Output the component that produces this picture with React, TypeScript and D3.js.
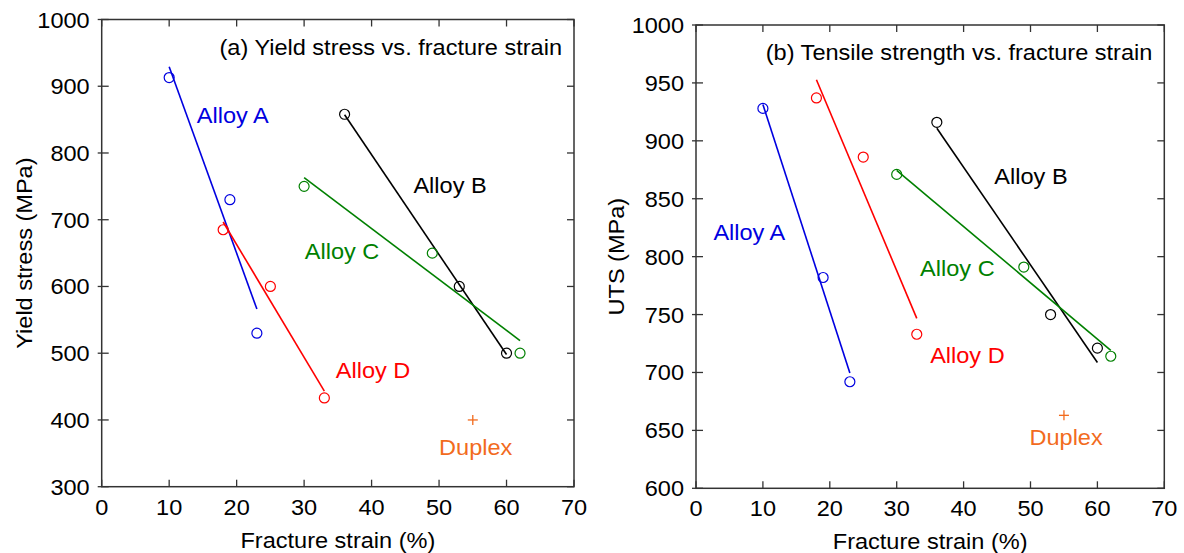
import React from "react";
import * as d3 from "d3";

// ---------- data ----------
const xTicks = [0, 10, 20, 30, 40, 50, 60, 70];
const yTicksA = [300, 400, 500, 600, 700, 800, 900, 1000];
const yTicksB = [600, 650, 700, 750, 800, 850, 900, 950, 1000];

const alloyNames = ["Alloy A", "Alloy B", "Alloy C", "Alloy D"];
const strainA = [10, 19, 23];
const strainB = [36, 53, 60];
const strainC = [30, 49, 62];
const strainD = [18, 25, 33];
const yieldA = [913, 730, 530];
const yieldB = [858, 600, 500];
const yieldC = [750, 650, 500];
const yieldD = [685, 600, 433];
const utsA = [928, 782, 692];
const utsB = [916, 750, 721];
const utsC = [871, 791, 714];
const utsD = [937, 886, 733];
const duplexStrain = [55];
const duplexYield = [400];
const duplexUts = [663];

// label anchors in data units (x strain, y stress)
const labelPosA = [[14.1, 845], [46.2, 740], [30.1, 641], [34.7, 463]];
const labelPosB = [[2.6, 814], [44.6, 863], [33.5, 783], [35.0, 708]];
const duplexLabelA = [50.0, 347];
const duplexLabelB = [49.85, 637];

const colors = ["#0000e0", "#000000", "#008000", "#ff0000"];
const duplexColor = "#f26b1d";
const FONT = "'Liberation Sans', Arial, Helvetica, sans-serif";
const FS = 22;
const SX = 1.07;

function fit(xs: number[], ys: number[]) {
  const mx = d3.mean(xs)!;
  const my = d3.mean(ys)!;
  let sxy = 0, sxx = 0;
  xs.forEach((x, i) => {
    sxy += (x - mx) * (ys[i] - my);
    sxx += (x - mx) * (x - mx);
  });
  const b = sxy / sxx;
  const a = my - b * mx;
  const x0 = d3.min(xs)!, x1 = d3.max(xs)!;
  return [[x0, a + b * x0], [x1, a + b * x1]];
}

function T({ x, y, anchor = "start", rot = 0, fill = "#000", children }: any) {
  return (
    <text
      transform={`translate(${x},${y}) rotate(${rot}) scale(${SX},1)`}
      textAnchor={anchor}
      fill={fill}
      fontFamily={FONT}
      fontSize={FS}
    >
      {children}
    </text>
  );
}

function Panel({ left, right, top, bottom, yDomain, yTicks, title, yLabel, yLabelOff, xs, ys, dup, labels, dupLabel }: any) {
  const x = d3.scaleLinear().domain([0, 70]).range([left, right]);
  const y = d3.scaleLinear().domain(yDomain).range([bottom, top]);
  const line = d3.line<number[]>().x((d) => x(d[0])).y((d) => y(d[1]));
  const axisColor = "#333";
  return (
    <g>
      {/* fit lines */}
      {xs.map((sx: number[], i: number) => (
        <path key={"l" + i} d={line(fit(sx, ys[i]))!} stroke={colors[i]} strokeWidth={1.6} fill="none" />
      ))}
      {/* points */}
      {xs.map((sx: number[], i: number) =>
        sx.map((v: number, j: number) => (
          <circle key={"c" + i + "-" + j} cx={x(v)} cy={y(ys[i][j])} r={5} fill="none" stroke={colors[i]} strokeWidth={1.2} />
        ))
      )}
      {/* duplex */}
      {duplexStrain.map((v, i) => (
        <g key={"d" + i} stroke={duplexColor} strokeWidth={1.3}>
          <line x1={x(v) - 5} x2={x(v) + 5} y1={y(dup[i])} y2={y(dup[i])} />
          <line x1={x(v)} x2={x(v)} y1={y(dup[i]) - 5} y2={y(dup[i]) + 5} />
        </g>
      ))}
      {/* labels */}
      {alloyNames.map((n, i) => (
        <T key={"t" + i} x={x(labels[i][0])} y={y(labels[i][1])} fill={colors[i]}>{n}</T>
      ))}
      <T x={x(dupLabel[0])} y={y(dupLabel[1])} fill={duplexColor}>Duplex</T>
      {/* frame */}
      <rect x={left} y={top} width={right - left} height={bottom - top} fill="none" stroke={axisColor} strokeWidth={1.5} />
      {/* x ticks */}
      {xTicks.map((t) => (
        <g key={"xt" + t}>
          <line x1={x(t)} x2={x(t)} y1={bottom} y2={bottom - 7} stroke={axisColor} strokeWidth={1.3} />
          <line x1={x(t)} x2={x(t)} y1={top} y2={top + 7} stroke={axisColor} strokeWidth={1.3} />
          <T x={x(t)} y={bottom + 28} anchor="middle">{t}</T>
        </g>
      ))}
      {/* y ticks */}
      {yTicks.map((t: number) => (
        <g key={"yt" + t}>
          <line x1={left - 4} x2={left + 7} y1={y(t)} y2={y(t)} stroke={axisColor} strokeWidth={1.3} />
          <line x1={right} x2={right - 7} y1={y(t)} y2={y(t)} stroke={axisColor} strokeWidth={1.3} />
          <T x={left - 12} y={y(t) + 8} anchor="end">{t}</T>
        </g>
      ))}
      <T x={(left + right) / 2} y={bottom + 61} anchor="middle">Fracture strain (%)</T>
      <T x={left - yLabelOff} y={(top + bottom) / 2} anchor="middle" rot={-90}>{yLabel}</T>
      <T x={right - 12} y={top + 35} anchor="end">{title}</T>
    </g>
  );
}

export default function App() {
  return (
    <svg width={1184} height={553} style={{ position: "absolute", left: 0, top: 0, background: "#fff" }}>
      <rect width={1184} height={553} fill="#fff" />
      <Panel
        left={101.7} right={574} top={19.5} bottom={486.7}
        yDomain={[300, 1000]} yTicks={yTicksA}
        title="(a) Yield stress vs. fracture strain"
        yLabel="Yield stress (MPa)" yLabelOff={70}
        xs={[strainA, strainB, strainC, strainD]}
        ys={[yieldA, yieldB, yieldC, yieldD]}
        dup={duplexYield} labels={labelPosA} dupLabel={duplexLabelA}
      />
      <Panel
        left={696} right={1164.3} top={25} bottom={488.3}
        yDomain={[600, 1000]} yTicks={yTicksB}
        title="(b) Tensile strength vs. fracture strain"
        yLabel="UTS (MPa)" yLabelOff={72}
        xs={[strainA, strainB, strainC, strainD]}
        ys={[utsA, utsB, utsC, utsD]}
        dup={duplexUts} labels={labelPosB} dupLabel={duplexLabelB}
      />
    </svg>
  );
}
